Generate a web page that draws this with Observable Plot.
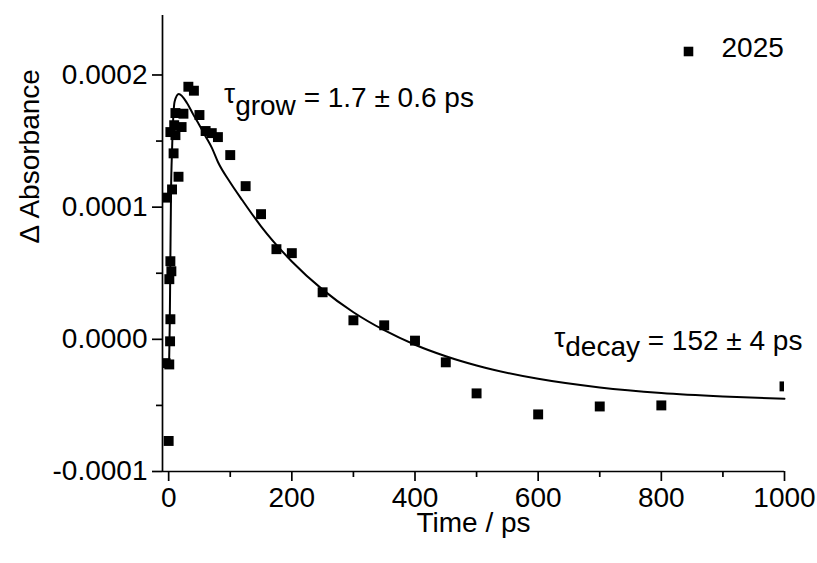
<!DOCTYPE html>
<html><head><meta charset="utf-8">
<script src="https://cdn.jsdelivr.net/npm/d3@7"></script>
<script src="https://cdn.jsdelivr.net/npm/@observablehq/plot@0.6"></script>
<style>body{margin:0;background:#fff}</style>
</head><body><div id="chart"></div>
<script>
// Measured data (time in ps, ΔAbsorbance)
const times = [0, -5, 1, 2.3, 2.8, 1.1, 4.4, 2.8, -3, 5.5, 16, 8, 2.8, 11, 9, 21, 11, 24, 32, 41,
  50, 60, 70, 80, 100, 125, 150, 175, 200, 250, 300, 350, 400, 450, 500, 600, 700, 800, 1000];
const values = [-7.69e-5, -1.8e-5, -1.9e-5, -1.5e-6, 1.52e-5, 4.55e-5, 5.15e-5, 5.91e-5, 1.072e-4, 1.134e-4,
  1.23e-4, 1.407e-4, 1.568e-4, 1.545e-4, 1.62e-4, 1.606e-4, 1.712e-4, 1.707e-4, 1.911e-4, 1.881e-4,
  1.697e-4, 1.576e-4, 1.56e-4, 1.53e-4, 1.394e-4, 1.159e-4, 9.47e-5, 6.82e-5, 6.52e-5, 3.56e-5,
  1.44e-5, 1.06e-5, -1.0e-6, -1.74e-5, -4.09e-5, -5.68e-5, -5.08e-5, -5.0e-5, -3.56e-5];
// Fit curve
const fitTimes = [0.8, 1.8, 2.8, 3.9, 5.5, 9.7, 16.4, 30, 40, 50, 60, 70, 80, 100, 120, 150, 200, 250,
  300, 350, 400, 450, 500, 600, 700, 800, 900, 1000];
const fitValues = [-1.6e-5, 1.2e-5, 6.2e-5, 1.13e-4, 1.43e-4, 1.80e-4, 1.856e-4, 1.786e-4, 1.70e-4, 1.62e-4,
  1.535e-4, 1.45e-4, 1.342e-4, 1.187e-4, 1.05e-4, 8.55e-5, 5.89e-5, 3.76e-5, 2.05e-5, 6.9e-6,
  -4.1e-6, -1.28e-5, -1.98e-5, -2.99e-5, -3.64e-5, -4.06e-5, -4.32e-5, -4.495e-5];
// Axes
const xTicks = [0, 200, 400, 600, 800, 1000];
const xMinorTicks = [100, 300, 500, 700, 900];
const yTicks = [-0.0001, 0, 0.0001, 0.0002];
const yTickLabels = ["-0.0001", "0.0000", "0.0001", "0.0002"];
const yMinorTicks = [-0.00005, 0.00005, 0.00015];
const xLabel = "Time / ps";
const yLabel = "\u0394 Absorbance";
const seriesName = "2025";
// Annotations
const annotSymbols = ["\u03c4", "\u03c4"];
const annotSubs = ["grow", "decay"];
const annotRests = [" = 1.7 \u00b1 0.6 ps", " = 152 \u00b1 4 ps"];
const annotT = [90, 626];
const annotV = [1.758e-4, -8.3e-6];

const points = times.map((t, i) => ({t, v: values[i]}));
const fit = fitTimes.map((t, i) => ({t, v: fitValues[i]}));
const annots = annotT.map((t, i) => ({t, v: annotV[i], sym: annotSymbols[i], sub: annotSubs[i], rest: annotRests[i]}));

const FS = 28;
const chart = Plot.plot({
  width: 817, height: 563,
  marginLeft: 162, marginRight: 33, marginTop: 15, marginBottom: 92,
  x: {domain: [-10, 1000]},
  y: {domain: [-0.0001, 0.000245]},
  style: {fontFamily: "'Liberation Sans', Arial, sans-serif", fontSize: FS + "px", color: "black", background: "white", overflow: "visible"},
  marks: [
    Plot.ruleY([-0.0001], {stroke: "black", strokeWidth: 1.7}),
    Plot.ruleX([-10], {stroke: "black", strokeWidth: 1.7}),
    Plot.axisX(xTicks, {tickSize: 10, tickPadding: 6, tickFormat: d => String(d), label: null, strokeWidth: 1.7, fontSize: FS}),
    Plot.axisX(xMinorTicks, {tickSize: 6, tickFormat: () => "", label: null, strokeWidth: 1.7}),
    Plot.axisY(yTicks, {tickSize: 10, tickPadding: 5, tickFormat: d => yTickLabels[yTicks.indexOf(d)], label: null, strokeWidth: 1.7, fontSize: FS}),
    Plot.axisY(yMinorTicks, {tickSize: 6, tickFormat: () => "", label: null, strokeWidth: 1.7}),
    Plot.text([xLabel], {text: d => d, frameAnchor: "bottom", dy: 52, lineAnchor: "middle", fontSize: FS}),
    Plot.text([yLabel], {text: d => d, frameAnchor: "left", dx: -132, rotate: -90, lineAnchor: "middle", fontSize: FS}),
    Plot.line(fit, {x: "t", y: "v", curve: "monotone-x", stroke: "black", strokeWidth: 2}),
    Plot.dot(points, {x: "t", y: "v", symbol: "square", r: 5.6, fill: "black", stroke: null, clip: true}),
    Plot.dot([seriesName], {frameAnchor: "top-right", dx: -96, dy: 36, symbol: "square", r: 5.4, fill: "black", stroke: null}),
    Plot.text([seriesName], {text: d => d, frameAnchor: "top-right", dx: -63, dy: 33, textAnchor: "start", lineAnchor: "middle", fontSize: FS}),
    Plot.text(annots, {x: "t", y: "v", text: d => d.sym + d.sub + d.rest, textAnchor: "start", lineAnchor: "bottom", fontSize: FS})
  ]
});
document.getElementById("chart").appendChild(chart);

// Render subscripts inside the annotation texts
const shifts = [[-4, 12, -8], [-3, 9, -6]];
d3.select(chart).selectAll("text").each(function() {
  const el = d3.select(this);
  const content = this.textContent;
  annots.forEach((a, i) => {
    if (content === a.sym + a.sub + a.rest) {
      const s = shifts[i];
      el.text(null);
      el.append("tspan").attr("dy", s[0]).text(a.sym);
      el.append("tspan").attr("dy", s[1]).text(a.sub);
      el.append("tspan").attr("dy", s[2]).text(a.rest);
    }
  });
});
</script></body></html>
